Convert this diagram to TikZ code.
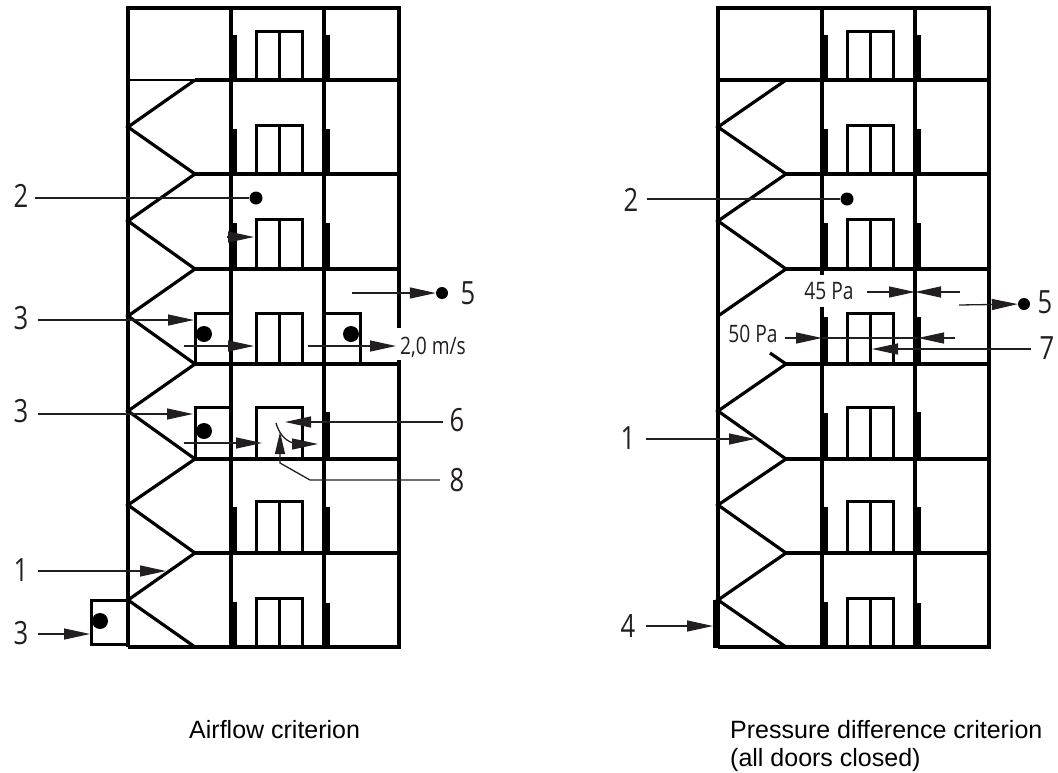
\documentclass[tikz,border=0pt]{standalone}
\usepackage{fontspec}
\setmainfont{Liberation Sans}
\newfontfamily\isofont[FakeStretch=0.8]{Open Sans}
\usetikzlibrary{arrows.meta}
\definecolor{ink}{HTML}{231F20}
\tikzset{
  x=1pt,y=-1pt,
  wall/.style={draw=black,line width=3.2pt,line cap=butt,line join=miter},
  thinwall/.style={draw=black,line width=1.6pt},
  lead/.style={draw=ink,line width=1.3pt,-{Triangle[length=26pt,width=11pt]}},
  shortlead/.style={draw=ink,line width=1.3pt,-{Triangle[length=22pt,width=10pt]}},
  plainlead/.style={draw=ink,line width=1.3pt},
  blob/.style={circle,fill=black,inner sep=0pt},
  num/.style={font=\isofont\fontsize{32}{32}\selectfont,text=ink,inner sep=0pt,minimum width=15pt},
  small/.style={font=\isofont\fontsize{24}{24}\selectfont,text=ink,inner sep=1pt,fill=white},
  caption/.style={font=\fontsize{25}{28}\selectfont,text=black,inner sep=0pt,align=left,anchor=north west},
}
\begin{document}
\begin{tikzpicture}
\useasboundingbox (0,0) rectangle (1058,772);
% LEFT BUILDING
\begin{scope}
\draw[wall] (128,647) -- (128,8) -- (399,8) -- (399,328);
\draw[wall] (399,360) -- (399,647) -- (128,647);
\draw[wall] (231,8) -- (231,647);
\draw[wall] (324,8) -- (324,647);
\draw[thinwall] (128,80) -- (195,80);
\foreach \y in {80,174,269,364,459,553} \draw[wall] (195,\y) -- (399,\y);
\draw[wall] (195,80) -- (128,127) -- (195,174) -- (128,221) -- (195,269) -- (128,316) -- (195,364) -- (128,411) -- (195,459) -- (128,505) -- (195,553) -- (128,600);
\draw[wall] (128,600) -- (195,647);
\foreach \x/\t/\b in {231/35/80,324/35/80,231/129/174,324/129/174,231/223/269,324/223/269,324/412/459,231/507/553,324/507/553,231/602/647,324/603/647}
  \fill[black] (\x-1,\t) rectangle (\x+6,\b);
\foreach \t/\b in {31/80,125/174,219/269,313/364,501/553,598/647}{
  \draw[wall,line width=3pt] (256,\b) -- (256,\t) -- (302,\t) -- (302,\b);
  \draw[wall,line width=3pt] (279,\b) -- (279,\t);
}
\draw[wall,line width=3pt] (256,459) -- (256,407) -- (302,407) -- (302,459);
% open doors
\draw[wall,line width=3pt] (231,313) -- (195,313) -- (195,364);
\draw[wall,line width=3pt] (324,313) -- (360,313) -- (360,364);
\draw[wall,line width=3pt] (231,407) -- (195,407) -- (195,459);
\draw[wall,line width=3pt] (128,600) -- (91,600) -- (91,644) -- (128,644);
\node[blob,minimum size=16pt] (dA) at (204,334) {};
\node[blob,minimum size=16pt] (dB) at (351,334) {};
\node[blob,minimum size=16pt] (dC) at (204,431) {};
\node[blob,minimum size=16pt] (dD) at (100,621) {};
\node[blob,minimum size=13pt] (dE) at (256,198) {};
\node[blob,minimum size=12pt] (dF) at (442,293) {};
\node[num] (n2) at (21,196) {2};
\node[num] (n3a) at (21,318) {3};
\node[num] (n3b) at (21,411) {3};
\node[num] (n1) at (21,570) {1};
\node[num] (n3c) at (21,633) {3};
\node[num] (n5) at (468,293) {5};
\node[num] (n6) at (457,420) {6};
\node[num] (n8) at (457,480) {8};
\node[small,anchor=west] (v) at (399,347) {2,0 m/s};
\coordinate (a1) at (352,293);
\coordinate (a2) at (184,346); \coordinate (a2e) at (254,346);
\coordinate (a3) at (308,346); \coordinate (a3e) at (396,346);
\coordinate (a4) at (184,443); \coordinate (a4e) at (262,443);
\coordinate (a5) at (227,237); \coordinate (a5e) at (254,237);
\coordinate (t3a) at (194,320); \coordinate (t3b) at (193,414);
\coordinate (t6) at (285,422);
\coordinate (t1) at (166,571); \coordinate (t3c) at (90,634);
\coordinate (s2) at ([shift={(6.5,2)}]n2.east);
\coordinate (s3a) at ([shift={(9.5,2)}]n3a.east);
\coordinate (s3b) at ([shift={(9.5,3)}]n3b.east);
\coordinate (s1) at ([shift={(9.5,1)}]n1.east);
\coordinate (s3c) at ([shift={(9.5,1)}]n3c.east);
\coordinate (s6) at ([shift={(-6.5,2)}]n6.west);
\coordinate (s8) at ([shift={(-9.5,0)}]n8.west);
\draw[plainlead] (s2) -- (dE);
\draw[lead] (a1) -- (dF);
\draw[lead] (s3a) -- (t3a);
\draw[lead] (s3b) -- (t3b);
\draw[lead] (a2) -- (a2e);
\draw[lead] (a3) -- (a3e);
\draw[lead] (a4) -- (a4e);
\draw[lead] (a5) -- (a5e);
\draw[lead] (s6) -- (t6);
\draw[lead] (s1) -- (t1);
\draw[lead] (s3c) -- (t3c);
\coordinate (t8) at (280,432);
\draw[shortlead] (s8) -- (310,480) -- (280,463) -- (t8);
\coordinate (c1) at (276,423); \coordinate (c2) at (318,444);
\draw[plainlead] (c1) .. controls (279,433) and (284,440) .. (293,443);
\draw[lead] (292,444) -- (c2);
\end{scope}
% RIGHT BUILDING
\begin{scope}[xshift=591pt]
\draw[wall] (127,647) -- (127,8) -- (398,8) -- (398,647) -- (127,647);
\draw[wall] (231,8) -- (231,275);
\draw[wall] (231,307) -- (231,647);
\draw[wall] (324,8) -- (324,647);
\draw[wall] (127,80) -- (195,80);
\foreach \y in {80,174,269,364,459,553} \draw[wall] (195,\y) -- (398,\y);
\draw[wall] (195,80) -- (127,127) -- (195,174) -- (127,221) -- (195,269) -- (127,316);
\draw[wall] (179,353) -- (195,364) -- (127,411) -- (195,459) -- (127,505) -- (195,553) -- (127,600) -- (195,647);
\foreach \x/\t/\b in {231/35/80,324/35/80,231/129/174,324/129/174,231/223/269,324/223/269,231/317/364,324/317/364,231/413/459,324/412/459,231/507/553,324/507/553,231/602/647,324/603/647}
  \fill[black] (\x-1,\t) rectangle (\x+6,\b);
\fill[black] (122,600) rectangle (128,648);
\foreach \t/\b in {31/80,125/174,219/269,313/364,407/459,501/553,598/647}{
  \draw[wall,line width=3pt] (256,\b) -- (256,\t) -- (302,\t) -- (302,\b);
  \draw[wall,line width=3pt] (279,\b) -- (279,\t);
}
\node[blob,minimum size=13pt] (eE) at (256,199) {};
\node[blob,minimum size=12pt] (eF) at (433,304) {};
\node[num] (m2) at (40,200) {2};
\node[num] (m1) at (37,438) {1};
\node[num] (m4) at (37,626) {4};
\node[num] (m5) at (454,302) {5};
\node[num] (m7) at (456,348) {7};
\node[small,anchor=center] (p45) at (238,291) {45 Pa};
\node[small,anchor=center,fill=none] (p50) at (162,334) {50 Pa};
\coordinate (b1) at (368,305);
\coordinate (b2) at (276,292); \coordinate (b2e) at (324,292);
\coordinate (b3) at (369,292); \coordinate (b3e) at (324,292);
\coordinate (b4) at (194,338); \coordinate (b4e) at (231,338);
\coordinate (b5) at (364,338); \coordinate (b5e) at (327,338);
\coordinate (t7) at (281,349);
\coordinate (t1r) at (164,439);
\coordinate (t4) at (122,626);
\coordinate (sm2) at ([shift={(8.5,-1)}]m2.east);
\coordinate (sm1) at ([shift={(10.5,1)}]m1.east);
\coordinate (sm4) at ([shift={(10.5,0)}]m4.east);
\coordinate (sm7) at ([shift={(-8.5,1)}]m7.west);
\draw[plainlead] (sm2) -- (eE);
\draw[lead] (b1) -- (eF);
\draw[plainlead] (b4e) -- (b5e);
\draw[lead] (b2) -- (b2e);
\draw[lead] (b3) -- (b3e);
\draw[lead] (b4) -- (b4e);
\draw[lead] (b5) -- (b5e);
\draw[lead] (sm7) -- (t7);
\draw[lead] (sm1) -- (t1r);
\draw[lead] (sm4) -- (t4);
\end{scope}
\node[caption] (capA) at (189,720) {Airflow criterion};
\node[caption] (capB) at (730,720) {Pressure difference criterion\\(all doors closed)};
\end{tikzpicture}
\end{document}
